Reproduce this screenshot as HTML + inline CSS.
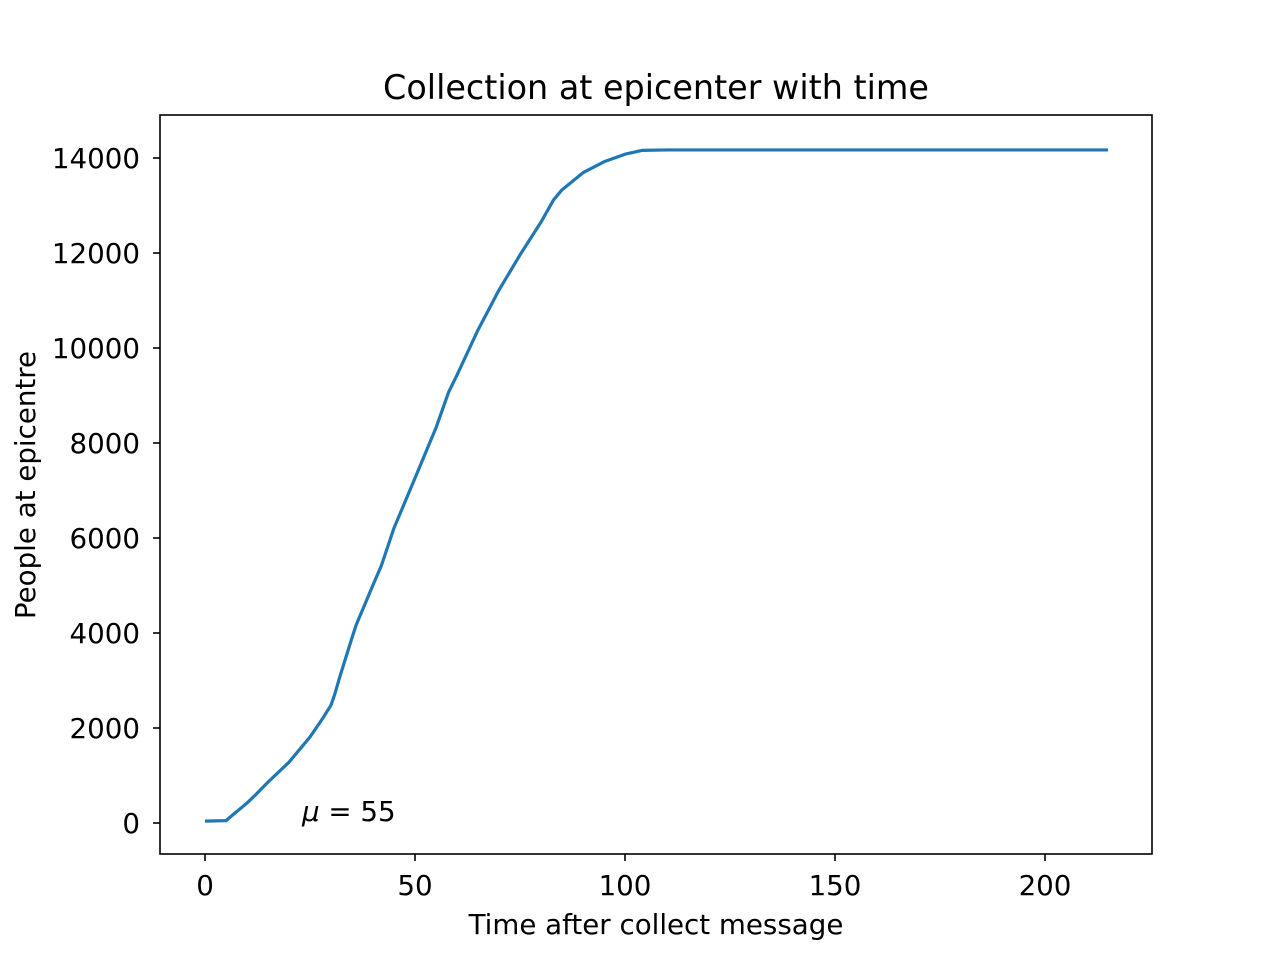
<!DOCTYPE html>
<html><head><meta charset="utf-8"><style>
body{margin:0;background:#fff;}
svg{display:block;font-family:"DejaVu Sans","Liberation Sans",sans-serif;}
</style></head><body>
<svg id="chart" width="1280" height="960">
<rect width="1280" height="960" fill="#fff"/>
<text x="656" y="99" font-size="33.4" text-anchor="middle">Collection at epicenter with time</text>
<text x="656" y="934" font-size="27.7" text-anchor="middle">Time after collect message</text>
<text transform="translate(35,485) rotate(-90)" font-size="27.7" text-anchor="middle">People at epicentre</text>
<g id="ticks"></g>
<path id="line" fill="none" stroke="#1f77b4" stroke-width="3.2" stroke-linejoin="round"/>
<text x="302" y="821" font-size="27.7"><tspan font-style="italic">μ</tspan> = 55</text>
<rect x="160" y="115" width="992" height="739" fill="none" stroke="#000" stroke-width="1.6"/>
</svg>
<script>
const times=[0,5,7,10,12,15,20,25,28,30,31,32,35,36,38,40,42,45,50,55,58,60,65,70,75,80,83,85,90,95,100,104,110,150,215];
const people=[40,50,200,420,590,860,1280,1810,2200,2480,2740,3050,3900,4170,4590,5010,5420,6210,7260,8320,9070,9430,10380,11220,11960,12650,13120,13330,13690,13920,14080,14160,14170,14170,14170];
const xTicks=[0,50,100,150,200];
const yTicks=[0,2000,4000,6000,8000,10000,12000,14000];
function xs(v){return 205+v*4.2;}
function ys(v){return 823-v*665/14000;}
const ns="http://www.w3.org/2000/svg";
const g=document.getElementById('ticks');
xTicks.forEach(t=>{
 const l=document.createElementNS(ns,'line');
 l.setAttribute('x1',xs(t));l.setAttribute('x2',xs(t));l.setAttribute('y1',854);l.setAttribute('y2',861);
 l.setAttribute('stroke','#000');l.setAttribute('stroke-width','1.6');
 
 
 g.appendChild(l);
 const tx=document.createElementNS(ns,'text');
 tx.setAttribute('x',xs(t));tx.setAttribute('y',895);tx.setAttribute('font-size','27.7');tx.setAttribute('text-anchor','middle');
 tx.textContent=t;
 
 
 g.appendChild(tx);
});
yTicks.forEach(t=>{
 const l=document.createElementNS(ns,'line');
 l.setAttribute('x1',153);l.setAttribute('x2',160);l.setAttribute('y1',ys(t));l.setAttribute('y2',ys(t));
 l.setAttribute('stroke','#000');l.setAttribute('stroke-width','1.6');
 
 
 g.appendChild(l);
 const tx=document.createElementNS(ns,'text');
 tx.setAttribute('x',140);tx.setAttribute('y',ys(t)+10);tx.setAttribute('font-size','27.7');tx.setAttribute('text-anchor','end');
 tx.textContent=t;
 
 
 g.appendChild(tx);
});
document.getElementById('line').setAttribute('d',times.map((t,i)=>(i?'L':'M')+xs(t)+','+ys(people[i])).join(' '));
</script>
</body></html>
